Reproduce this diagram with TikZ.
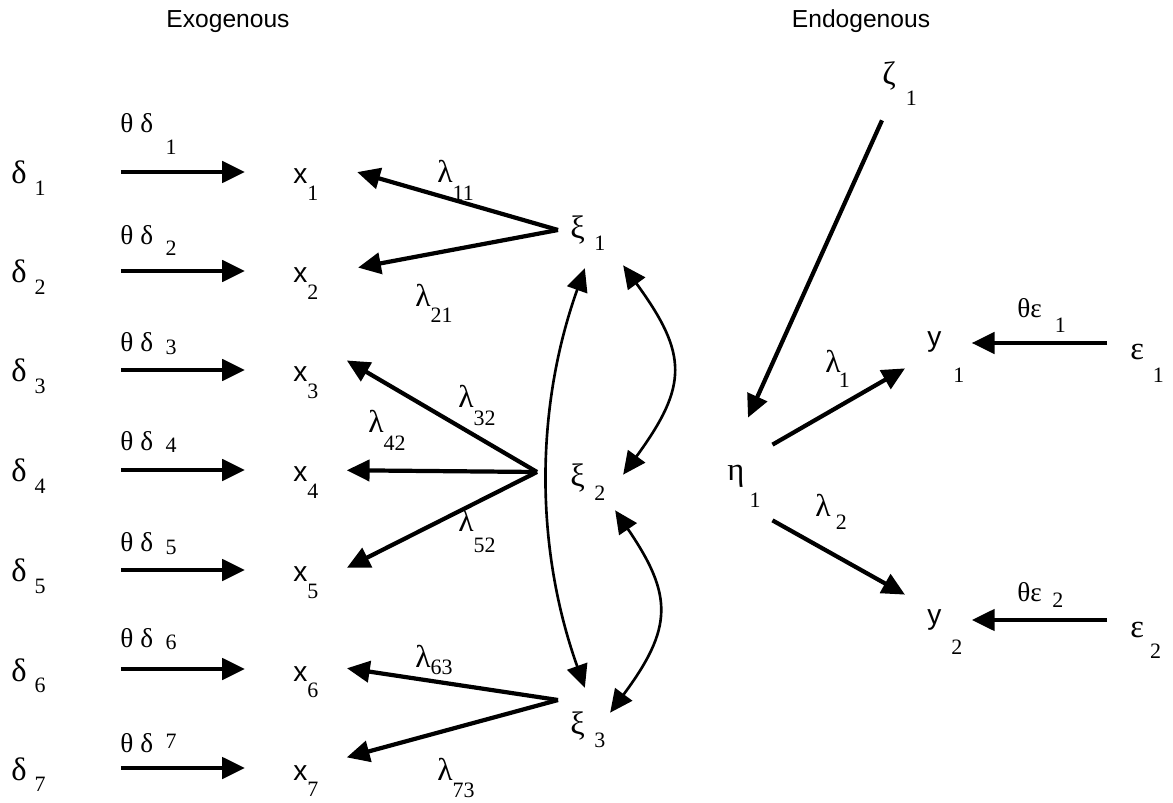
\documentclass[tikz,border=0pt]{standalone}
\usepackage{fontspec}
\setmainfont{Liberation Serif}
\newfontfamily\hv{Liberation Sans}
\usetikzlibrary{arrows.meta}
% lowered index: [gap]{drop}{digits}
\newcommand{\dn}[3][0pt]{\hspace{#1}\raisebox{-#2}{\normalfont\fontsize{12.5}{12.5}\selectfont #3}}

\tikzset{
  var/.style={inner sep=0pt, anchor=base west, text height=0.48cm, text depth=0pt, font=\fontsize{18.5}{18.5}\selectfont},
  obs/.style={var, font=\hv\fontsize{16}{16}\selectfont},
  lbl/.style={inner sep=0pt, anchor=base west, font=\fontsize{18}{18}\selectfont},
  elbl/.style={lbl, font=\fontsize{15.5}{16}\selectfont},
  head/.style={anchor=base, font=\hv\fontsize{14}{14}\selectfont},
  arr/.style={->, line width=2.4pt},
  meas/.style={arr, shorten <=1.5cm, shorten >=0.96cm},
  cov/.style={<->, line width=1.5pt},
}

\begin{document}
\begin{tikzpicture}[x=0.02cm, y=-0.02cm, >={Triangle[length=13pt,width=12pt]}]
\useasboundingbox (0,0) rectangle (1173,803);

\node[head] (exo) at (228,28) {Exogenous};
\node[head] (endo) at (861,28) {Endogenous};

% errors and x indicators
\node[var] (d1) at (11,184) {δ\dn[4.5pt]{6.3pt}{1}};
\node[var] (d2) at (11,283) {δ\dn[4.5pt]{6.3pt}{2}};
\node[var] (d3) at (11,382) {δ\dn[4.5pt]{6.3pt}{3}};
\node[var] (d4) at (11,482) {δ\dn[4.5pt]{6.3pt}{4}};
\node[var] (d5) at (11,582) {δ\dn[4.5pt]{6.3pt}{5}};
\node[var] (d6) at (11,681) {δ\dn[4.5pt]{6.3pt}{6}};
\node[var] (d7) at (11,780) {δ\dn[4.5pt]{6.3pt}{7}};

\node[obs] (x1) at (293,184) {x\dn{9.5pt}{1}};
\node[obs] (x2) at (293,283) {x\dn{9.5pt}{2}};
\node[obs] (x3) at (293,382) {x\dn{9.5pt}{3}};
\node[obs] (x4) at (293,482) {x\dn{9.5pt}{4}};
\node[obs] (x5) at (293,582) {x\dn{9.5pt}{5}};
\node[obs] (x6) at (293,681) {x\dn{9.5pt}{6}};
\node[obs] (x7) at (293,780) {x\dn{9.5pt}{7}};

\node[elbl] (td1) at (120,133) {θ\hspace{4pt}δ\dn[7pt]{12.5pt}{1}};
\node[elbl] (td2) at (120,245) {θ\hspace{4pt}δ\dn[7pt]{5.7pt}{2}};
\node[elbl] (td3) at (120,352) {θ\hspace{4pt}δ\dn[7pt]{1.2pt}{3}};
\node[elbl] (td4) at (120,451) {θ\hspace{4pt}δ\dn[7pt]{1pt}{4}};
\node[elbl] (td5) at (120,552) {θ\hspace{4pt}δ\dn[7pt]{1.2pt}{5}};
\node[elbl] (td6) at (120,647) {θ\hspace{4pt}δ\dn[7pt]{1.7pt}{6}};
\node[elbl] (td7) at (120,752) {θ\hspace{4pt}δ\dn[7pt]{-2pt}{7}};

\draw[meas] (d1.east) -- (x1.west);
\draw[meas] (d2.east) -- (x2.west);
\draw[meas] (d3.east) -- (x3.west);
\draw[meas] (d4.east) -- (x4.west);
\draw[meas] (d5.east) -- (x5.west);
\draw[meas] (d6.east) -- (x6.west);
\draw[meas] (d7.east) -- (x7.west);

% exogenous factors
\node[var] (xi1) at (570,239) {ξ\dn[5.4pt]{6.3pt}{1}};
\node[var] (xi2) at (570,487) {ξ\dn[5.4pt]{7.4pt}{2}};
\node[var] (xi3) at (570,734) {ξ\dn[5.4pt]{7.4pt}{3}};

\draw[arr, shorten >=0.8cm] ([shift={(-12,3)}]xi1.west) -- ([shift={(0,-11)}]x1.east);
\draw[arr, shorten >=0.8cm] ([shift={(-12,3)}]xi1.west) -- ([shift={(0,4)}]x2.east);
\draw[arr, shorten >=0.65cm] ([shift={(-33,-3)}]xi2.west) -- ([shift={(0,-26)}]x3.east);
\draw[arr, shorten >=0.56cm] ([shift={(-33,-3)}]xi2.west) -- (x4.east);
\draw[arr, shorten >=0.63cm] ([shift={(-33,-3)}]xi2.west) -- ([shift={(0,12)}]x5.east);
\draw[arr, shorten >=0.57cm] ([shift={(-12,-22)}]xi3.west) -- ([shift={(0,-5)}]x6.east);
\draw[arr, shorten >=0.58cm] ([shift={(-12,-22)}]xi3.west) -- ([shift={(0,-3)}]x7.east);

\node[lbl] (l11) at (437,183) {λ\dn{9.7pt}{11}};
\node[lbl] (l21) at (415,307) {λ\dn{9pt}{21}};
\node[lbl] (l32) at (458,408) {λ\dn{9.7pt}{32}};
\node[lbl] (l42) at (368,433) {λ\dn{9.7pt}{42}};
\node[lbl] (l52) at (458,532) {λ\dn{11.4pt}{52}};
\node[lbl] (l63) at (415,667) {λ\dn{4.5pt}{63}};
\node[lbl] (l73) at (437,780) {λ\dn{9.7pt}{73}};

% correlations between the factors
\draw[cov] ([shift={(-3,29)}]xi1.south) .. controls +(-50,140) and +(-50,-140) .. ([shift={(-3,-22)}]xi3.north);
\draw[cov] ([shift={(17.5,26)}]xi1.south east) .. controls +(65,89) and +(65,-89) .. ([shift={(17.5,12)}]xi2.north east);
\draw[cov] ([shift={(9.5,23)}]xi2.south east) .. controls +(58,85) and +(63,-85) .. ([shift={(4.5,3)}]xi3.north east);

% endogenous part
\node[var] (zeta1) at (882,85) {ζ\dn[5.7pt]{11.4pt}{1}};
\node[var] (eta1) at (727,481) {η\dn[3pt]{14.8pt}{1}};
\node[obs] (y1) at (927,347) {y\dn[6.8pt]{20pt}{1}};
\node[obs] (y2) at (927,624) {y\dn[5.7pt]{17.6pt}{2}};
\node[var] (eps1) at (1130,360) {ε\dn[5pt]{13pt}{1}};
\node[var] (eps2) at (1130,637) {ε\dn[3.5pt]{12pt}{2}};

\draw[arr] ([shift={(0,35)}]zeta1.south west) -- ([shift={(21,-39)}]eta1.north west);
\draw[arr] ([shift={(11.5,-12)}]eta1.north east) -- ([shift={(-22,21)}]y1.south west);
\draw[arr] ([shift={(11.5,39)}]eta1.south east) -- ([shift={(-22,-5)}]y2.north west);
\draw[arr] ([shift={(-23,-5)}]eps1.west) -- ([shift={(7,8)}]y1.east);
\draw[arr] ([shift={(-23,-5)}]eps2.west) -- ([shift={(9,8)}]y2.east);

\node[lbl] (lam1) at (825,373) {λ\dn[-1pt]{8pt}{1}};
\node[lbl] (lam2) at (815,517) {λ\dn[3pt]{7.4pt}{2}};
\node[elbl] (te1) at (1017,318) {θε\dn[7.4pt]{8pt}{1}};
\node[elbl] (te2) at (1017,602) {θε\dn[6pt]{3.4pt}{2}};
\end{tikzpicture}
\end{document}
